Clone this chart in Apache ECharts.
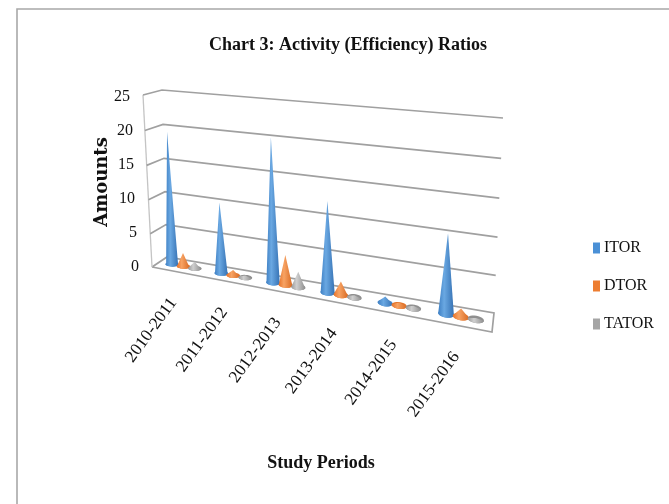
<!DOCTYPE html>
<html><head><meta charset="utf-8">
<style>html,body{margin:0;padding:0;background:#fff}#c{width:669px;height:504px}</style>
<script src="https://cdn.jsdelivr.net/npm/echarts@6/dist/echarts.min.js"></script>
</head><body><div id="c"></div>
<script>
const categories=['2010-2011','2011-2012','2012-2013','2013-2014','2014-2015','2015-2016'];
const ITOR=[19.6,10.35,20.45,12.7,0.9,10.7];
const DTOR=[2.0,0.8,4.3,1.9,0.4,1.1];
const TATOR=[1.0,0.3,2.2,0.3,0.3,0.2];
const yTicks=[0,5,10,15,20,25];
const FONT='"Liberation Serif","Times New Roman",serif';
const GRID={left:143,top:97,width:356,height:170};

// Perspective frame: wall and front planes of the 3-D box, in pixels.
const BACK=[[167,257],[494,313],[503,118],[162,90]];
const FRONT=[[152,267],[492,332],[497,132],[143,95]];
function homog(q){
  const [[x0,y0],[x1,y1],[x2,y2],[x3,y3]]=q;
  const dx1=x1-x2,dx2=x3-x2,sx=x0-x1+x2-x3,dy1=y1-y2,dy2=y3-y2,sy=y0-y1+y2-y3;
  const den=dx1*dy2-dx2*dy1;
  const g=(sx*dy2-dx2*sy)/den,h=(dx1*sy-sx*dy1)/den;
  const a=x1-x0+g*x1,b=x3-x0+h*x3,c=x0,d=y1-y0+g*y1,e=y3-y0+h*y3,f=y0;
  return (u,v)=>{const w=g*u+h*v+1;return [(a*u+b*v+c)/w,(d*u+e*v+f)/w];};
}
const HB=homog(BACK),HF=homog(FRONT);
// Axis pixel (from the cartesian scales) + depth (0 back .. 1 front) -> picture pixel
function warp(px,py,depth){
  const u=(px-GRID.left)/GRID.width,v=(GRID.top+GRID.height-py)/GRID.height;
  const b=HB(u,v),f=HF(u,v);
  return [b[0]+(f[0]-b[0])*depth,b[1]+(f[1]-b[1])*depth];
}
function coneSeries(name,values,offset,cols){
  return {name,type:'custom',coordinateSystem:'cartesian2d',
    itemStyle:{color:cols[4]},
    data:values.map((v,i)=>[i,v]),
    encode:{x:0,y:1},
    renderItem(params,api){
      const i=api.value(0),v=api.value(1);
      const band=api.size([1,0])[0];
      const p0=api.coord([i,0]),p1=api.coord([i,v]);
      const cx=p0[0]+offset*band,r=band*0.125,rd=0.2,D=0.5;
      const tip=warp(cx,p1[1],D);
      const ring=[],lower=[];
      for(let a=0;a<=360;a+=15){
        const t=a*Math.PI/180;
        const q=warp(cx+r*Math.cos(t),p0[1],D+rd*Math.sin(t));
        ring.push(q);
        if(a<=180)lower.push(q);
      }
      const grad=new echarts.graphic.LinearGradient(0,0,1,0,[
        {offset:0,color:cols[0]},{offset:0.38,color:cols[1]},{offset:1,color:cols[2]}]);
      return {type:'group',children:[
        {type:'polygon',shape:{points:ring},style:{fill:cols[3]}},
        {type:'polygon',shape:{points:[tip].concat(lower)},style:{fill:grad}}
      ]};
    }};
}
const frameSeries={type:'custom',coordinateSystem:'cartesian2d',silent:true,z:1,
  data:yTicks.map(t=>[0,t]),encode:{x:0,y:1},
  renderItem(params,api){
    const t=api.value(1),y=api.coord([0,t])[1],yb=api.coord([0,0])[1];
    const L=GRID.left,R=GRID.left+GRID.width;
    const st={stroke:'#a0a0a0',lineWidth:1.7,fill:null};
    const pts=[warp(L,y,1),warp(L,y,0),warp(R,y,0)];
    if(t===0)pts.push(warp(R,y,1),warp(L,y,1));
    const kids=[{type:'polyline',shape:{points:pts},style:st}];
    if(t===0){
      const top=api.coord([0,25])[1];
      kids.push({type:'polyline',shape:{points:[warp(L,yb,1),warp(L,top,1)]},style:{stroke:'#c4c4c4',lineWidth:1.3,fill:null}});
    }
    return {type:'group',children:kids};
  }};
const labelSeries={type:'custom',coordinateSystem:'cartesian2d',silent:true,z:5,
  data:categories.map((c,i)=>[i,0]),encode:{x:0,y:1},clip:false,
  renderItem(params,api){
    const i=api.value(0);
    const p=api.coord([i,0]);
    const q=warp(p[0],p[1],1);
    return {type:'text',x:q[0]-3,y:q[1]+28,rotation:54*Math.PI/180,scaleX:1.03,
      style:{text:categories[i],font:'17px '+FONT,fill:'#111',align:'right',verticalAlign:'middle'}};
  }};
const chart=echarts.init(document.getElementById('c'));
const tickPad={0:0,5:2,10:4,15:5,20:6,25:9};
chart.setOption({
  animation:false,backgroundColor:'#fff',
  title:{text:'Chart 3: Activity (Efficiency) Ratios',left:343,top:31,textAlign:'center',
    textStyle:{fontFamily:FONT,fontSize:18,fontWeight:'bold',color:'#111'}},
  legend:{orient:'vertical',left:588,top:235,itemWidth:7,itemHeight:11,itemGap:22,icon:'rect',
    data:['ITOR','DTOR','TATOR'],
    textStyle:{fontFamily:FONT,fontSize:16,color:'#111',padding:[0,0,0,-1]}},
  grid:Object.assign({},GRID),
  graphic:[{type:'polyline',silent:true,shape:{points:[[17,504],[17,9],[669,9]]},
    style:{stroke:'#a8a8a8',lineWidth:1.6,fill:null}}],
  xAxis:{type:'category',data:categories,name:'Study Periods',nameLocation:'middle',nameGap:187,
    nameTextStyle:{fontFamily:FONT,fontSize:18,fontWeight:'bold',color:'#111'},
    axisLine:{show:false},axisTick:{show:false},axisLabel:{show:false},splitLine:{show:false}},
  yAxis:{type:'value',min:0,max:25,interval:5,name:'Amounts',nameLocation:'middle',nameGap:32,nameMoveOverlap:false,
    nameTextStyle:{fontFamily:'"DejaVu Serif",serif',fontSize:18,fontWeight:'bold',color:'#111'},
    axisLine:{show:false},axisTick:{show:false},splitLine:{show:false},
    axisLabel:{color:'#111',margin:4,
      formatter:v=>'{p'+v+'|'+v+'}',
      rich:Object.fromEntries(yTicks.map(t=>['p'+t,{fontFamily:FONT,fontSize:16,color:'#111',padding:[0,tickPad[t],0,0]}]))}},
  series:[frameSeries,
    coneSeries('ITOR',ITOR,-0.235,['#3f80c4','#6aa8e2','#3672b4','#4a8bcb','#4a90d6']),
    coneSeries('DTOR',DTOR,0,['#e8742a','#f7a364','#d96a22','#e2752c','#ed7d31']),
    coneSeries('TATOR',TATOR,0.235,['#9a9a9a','#cfcfcf','#8e8e8e','#8f8f8f','#a5a5a5']),
    labelSeries]
});
</script></body></html>
